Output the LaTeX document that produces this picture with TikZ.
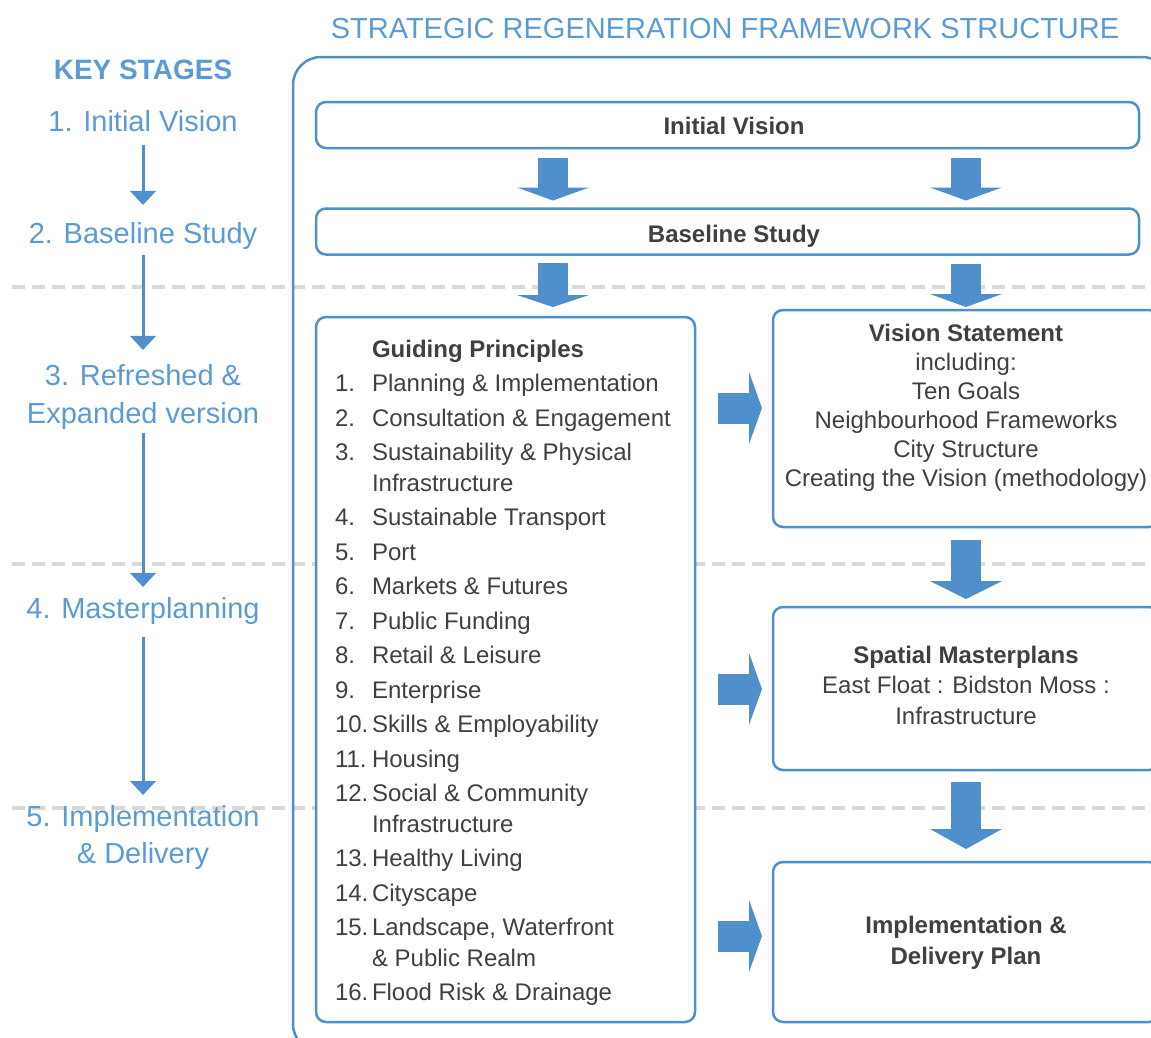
\documentclass[tikz,border=0pt]{standalone}
\usepackage{fontspec}
\setmainfont{Liberation Sans}
\usetikzlibrary{arrows.meta, positioning, calc}
\definecolor{srfblue}{HTML}{4F8FCC}
\definecolor{srftext}{HTML}{5B9BD5}
\definecolor{srfdark}{HTML}{404040}
\definecolor{srfdash}{HTML}{D9D9D9}

\begin{document}
\begin{tikzpicture}[
  x=1pt, y=-1pt,
  every node/.style={inner sep=0pt, outer sep=0pt},
  stagelabel/.style={font=\fontsize{29}{38}\selectfont, text=srftext, align=center, anchor=base},
  stagearrow/.style={srfblue, line width=3pt, -{Triangle[width=26pt,length=14pt,line width=0pt]}},
  framebox/.style={rectangle, rounded corners=10pt, draw=srfblue, line width=2.5pt, fill=white},
  boxtext/.style={font=\fontsize{24}{30}\selectfont, text=srfdark, align=center, anchor=base},
  boxbold/.style={font=\fontsize{24}{30}\selectfont\bfseries, text=srfdark, align=center, anchor=base},
  listtext/.style={font=\fontsize{24}{30}\selectfont, text=srfdark, anchor=base west},
  blockarrow/.style={srfblue, line width=30pt, -{Triangle[width=72pt,length=#1,line width=0pt]}},
  blockarrow/.default=13pt,
  stagedash/.style={srfdash, line width=4pt, dash pattern=on 13pt off 7pt},
]
\useasboundingbox (0,0) rectangle (1151,1037);
\clip (0,0) rectangle (1151,1037);

% Stage separators
\draw[stagedash] (12,287) -- (1165,287);
\draw[stagedash] (12,564) -- (1165,564);
\draw[stagedash] (12,808) -- (1165,808);

% Outer frame
\draw[srfblue, line width=2.5pt, rounded corners=28pt] (293,57) rectangle (1170,1052);

% Headings
\node[stagelabel] (title) at (725,38) {STRATEGIC REGENERATION FRAMEWORK STRUCTURE};
\node[stagelabel, font=\fontsize{28}{34}\selectfont\bfseries] (keystages) at (143,79) {KEY STAGES};

% Left side: key stages (multi-line labels sit on their last baseline)
\node[stagelabel] (s1) at (143,131) {1. Initial Vision};
\node[stagelabel] (s2) at (143,243) {2. Baseline Study};
\node[stagelabel] (s3) at (143,423) {3. Refreshed \&\\Expanded version};
\node[stagelabel] (s4) at (143,618) {4. Masterplanning};
\node[stagelabel, font=\fontsize{29}{37}\selectfont] (s5) at (143,863) {5. Implementation\\\& Delivery};

\draw[stagearrow, shorten <=14pt, shorten >=17pt] (s1) -- (s2);
\draw[stagearrow, shorten <=6pt, shorten >=14pt] (s2) -- (s3);
\draw[stagearrow, shorten <=4pt, shorten >=10pt] (s3) -- (s4);
\draw[stagearrow, shorten <=13pt, shorten >=10pt] (s4) -- (s5);

% Framework boxes
\node[framebox, minimum width=823pt, minimum height=46pt] (iv) at (727.5,125) {};
\node[framebox, minimum width=823pt, minimum height=46pt] (bs) at (727.5,231.5) {};
\node[framebox, minimum width=379pt, minimum height=705pt] (gp) at (505.5,669.5) {};
\node[framebox, minimum width=386pt, minimum height=217pt] (vs) at (966,418.5) {};
\node[framebox, minimum width=386pt, minimum height=163pt] (sm) at (966,688.5) {};
\node[framebox, minimum width=386pt, minimum height=160pt] (idp) at (966,942) {};

\node[boxbold] (ivtext) at (734,134) {Initial Vision};
\node[boxbold] (bstext) at (734,242) {Baseline Study};

\node[boxtext, font=\fontsize{24}{29}\selectfont] (vstext) at (966,486)
  {\textbf{Vision Statement}\\including:\\Ten Goals\\Neighbourhood Frameworks\\City Structure\\Creating the Vision (methodology)};
\node[boxtext, font=\fontsize{24}{30.5}\selectfont] (smtext) at (966,724)
  {\textbf{Spatial Masterplans}\\East Float : Bidston Moss :\\Infrastructure};
\node[boxbold, font=\fontsize{24}{31}\selectfont\bfseries] (idptext) at (966,964)
  {Implementation \&\\Delivery Plan};

% Guiding principles list
\node[listtext, font=\fontsize{24}{30}\selectfont\bfseries] (gptitle) at (372,357) {Guiding Principles};
\foreach \n/\y in {1/391, 2/426, 3/460, 4/525, 5/560, 6/594, 7/629, 8/663, 9/698,
                   10/732, 11/767, 12/801, 13/866, 14/901, 15/935, 16/1000}
  \node[listtext] (num\n) at (335,\y) {\n.};
\foreach \y/\txt [count=\i] in {391/Planning \& Implementation, 426/Consultation \& Engagement,
    460/Sustainability \& Physical, 491/Infrastructure, 525/Sustainable Transport, 560/Port,
    594/Markets \& Futures, 629/Public Funding, 663/Retail \& Leisure, 698/Enterprise,
    732/Skills \& Employability, 767/Housing, 801/Social \& Community, 832/Infrastructure,
    866/Healthy Living, 901/Cityscape, 935/{Landscape, Waterfront}, 966/\& Public Realm,
    1000/Flood Risk \& Drainage}
  \node[listtext] (item\i) at (372,\y) {\txt};

% Block arrows
\draw[blockarrow, shorten <=9.5pt, shorten >=8pt] (553,0 |- iv.south) -- (553,0 |- bs.north);
\draw[blockarrow, shorten <=9.5pt, shorten >=8pt] (966,0 |- iv.south) -- (966,0 |- bs.north);
\draw[blockarrow=12pt, shorten <=8.5pt, shorten >=10pt] (553,0 |- bs.south) -- (553,0 |- gp.north);
\draw[blockarrow=13pt, shorten <=9.5pt, shorten >=3pt] (966,0 |- bs.south) -- (vs.north);
\draw[blockarrow=18pt, shorten <=13pt, shorten >=8pt] (vs.south) -- (sm.north);
\draw[blockarrow=20pt, shorten <=12pt, shorten >=13pt] (sm.south) -- (idp.north);

\draw[blockarrow, line width=31pt, shorten <=23pt, shorten >=11pt] (gp.east |- 0,408) -- (vs.west |- 0,408);
\draw[blockarrow, line width=31pt, shorten <=23pt, shorten >=11pt] (gp.east |- 0,689) -- (sm.west |- 0,689);
\draw[blockarrow, line width=31pt, shorten <=23pt, shorten >=11pt] (gp.east |- 0,936) -- (idp.west |- 0,936);

\end{tikzpicture}
\end{document}
